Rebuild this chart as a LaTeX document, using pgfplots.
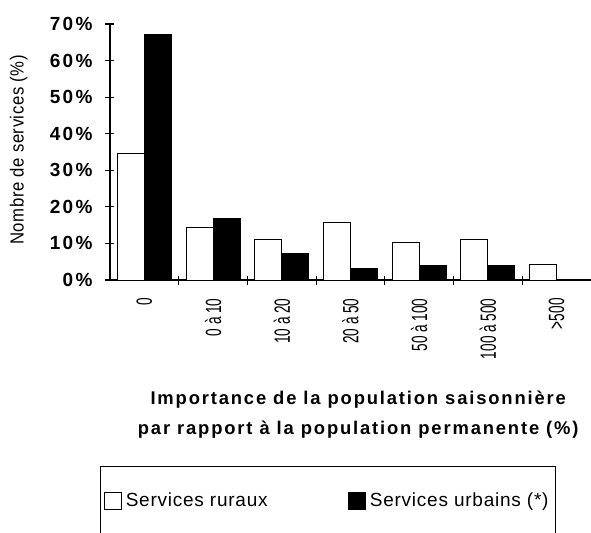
\documentclass[border=0pt]{standalone}
\usepackage{pgfplots}
\pgfplotsset{compat=1.18}
\usepackage{fontspec}
\setmainfont{Liberation Sans}
\newfontfamily\narrowf[FakeStretch=0.62]{Liberation Sans}
\newfontfamily\ylabf[FakeStretch=0.88,LetterSpace=3]{Liberation Sans}
\newfontfamily\spacedf[LetterSpace=10]{Liberation Sans}
\newfontfamily\ytickf[LetterSpace=12]{Liberation Sans}
\newfontfamily\legf[LetterSpace=4]{Liberation Sans}
\pgfplotsset{sqlegend/.style={legend image code/.code={\draw[##1,line width=0.6pt] (0pt,-4.25pt) rectangle (8.5pt,4.25pt);}}}
\begin{document}
\begin{tikzpicture}
\begin{axis}[
  at={(0,0)}, anchor=south west,
  scale only axis, width=240.5pt, height=128pt,
  ybar=0pt, bar width=13.5pt,
  xmin=-0.5, xmax=6.5, ymin=0, ymax=70,
  axis lines*=left,
  axis line style={-, line width=0.8pt},
  tick align=center, major tick length=4.5pt,
  tick style={black, line width=0.6pt},
  xtick={0.5,1.5,...,5.5}, xticklabels={},
  extra x ticks={0,1,2,3,4,5,6},
  extra x tick labels={0, 0 à 10, 10 à 20, 20 à 50, 50 à 100, 100 à 500, >500},
  extra x tick style={major tick length=0pt},
  xticklabel style={rotate=90, anchor=east, inner xsep=9pt, inner ysep=0pt, font=\narrowf\fontsize{11}{11}\selectfont},
  ytick={0,10,...,70},
  yticklabel={\pgfmathprintnumber[assume math mode=true]{\tick}\%},
  yticklabel style={xshift=-3pt, font=\ytickf\bfseries\fontsize{9.5}{10}\selectfont},
  ylabel={Nombre de services (\%)},
  ylabel style={at={(axis description cs:-0.19,0.508)}, anchor=center, font=\ylabf\fontsize{9.5}{10}\selectfont},
  xlabel={Importance de la population saisonnière\\par rapport à la population permanente (\%)},
  xlabel style={at={(axis description cs:0.516,-0.433)}, anchor=north, align=center, inner sep=0pt, font=\spacedf\bfseries\fontsize{9.2}{15}\selectfont},
  legend columns=2, legend cell align=left,
  legend style={at={(axis description cs:-0.0208,-0.7266)}, anchor=north west, draw=black, line width=0.6pt, inner xsep=1.5pt, inner ysep=11pt, font=\legf\fontsize{9.5}{9.5}\selectfont, /tikz/every even column/.append style={column sep=38pt}},
]
\addplot[fill=white, draw=black, line width=0.5pt, sqlegend] coordinates {(0,34.6) (1,14.3) (2,11.2) (3,15.7) (4,10.3) (5,11.1) (6,4.3)};
\addplot[fill=black, draw=black, line width=0.5pt, sqlegend] coordinates {(0,67.0) (1,16.9) (2,7.3) (3,3.2) (4,4.1) (5,4.1)};
\legend{Services ruraux, Services urbains (*)}
\end{axis}
\pgfresetboundingbox
\useasboundingbox (-55pt,-126pt) rectangle (240.5pt,140pt);
\end{tikzpicture}
\end{document}
